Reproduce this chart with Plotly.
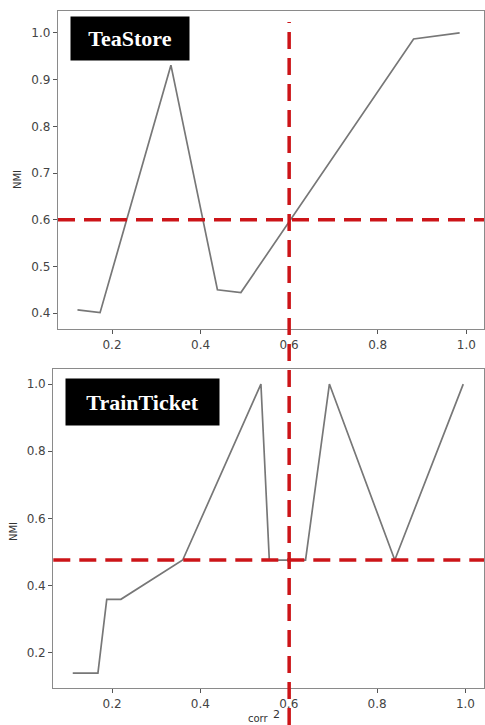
import plotly.graph_objects as go

# TeaStore panel data
tea_corr = [0.122, 0.173, 0.333, 0.438, 0.491, 0.881, 0.985]
tea_nmi = [0.407, 0.401, 0.931, 0.450, 0.444, 0.987, 1.000]
tea_thresh_nmi = 0.6

# TrainTicket panel data
train_corr = [0.111, 0.168, 0.188, 0.220, 0.360, 0.537, 0.556, 0.638, 0.692, 0.840, 0.995]
train_nmi = [0.139, 0.139, 0.359, 0.359, 0.476, 1.000, 0.476, 0.476, 1.000, 0.476, 1.000]
train_thresh_nmi = 0.476

corr_thresh = 0.6

tea_yticks = [0.4, 0.5, 0.6, 0.7, 0.8, 0.9, 1.0]
train_yticks = [0.2, 0.4, 0.6, 0.8, 1.0]
xticks = [0.2, 0.4, 0.6, 0.8, 1.0]

W, H = 485, 725
RED = "#cc1418"
GREY_LINE = "#777777"
SPINE = "#8a8a8a"
TICKFONT = dict(family="DejaVu Sans", size=12, color="#444444")

fig = go.Figure()
fig.add_trace(go.Scatter(x=tea_corr, y=tea_nmi, mode="lines",
                         line=dict(color=GREY_LINE, width=1.7),
                         xaxis="x", yaxis="y", showlegend=False))
fig.add_trace(go.Scatter(x=train_corr, y=train_nmi, mode="lines",
                         line=dict(color=GREY_LINE, width=1.7),
                         xaxis="x2", yaxis="y2", showlegend=False))

axis_common = dict(showgrid=False, zeroline=False, showline=True, mirror=True,
                   linecolor=SPINE, linewidth=1.3, ticks="outside", ticklen=4,
                   tickcolor="#555555", tickwidth=1, tickfont=TICKFONT,
                   tickformat=".1f")

fig.update_layout(
    width=W, height=H,
    margin=dict(l=0, r=0, t=0, b=0),
    paper_bgcolor="white", plot_bgcolor="white",
    xaxis=dict(axis_common, domain=[58 / W, 484 / W], range=[0.078, 1.04],
               tickvals=xticks, anchor="y"),
    yaxis=dict(axis_common, domain=[1 - 329 / H, 1 - 11 / H], range=[0.366, 1.047],
               tickvals=tea_yticks, anchor="x"),
    xaxis2=dict(axis_common, domain=[53.3 / W, 484 / W], range=[0.067, 1.042],
                tickvals=xticks, anchor="y2"),
    yaxis2=dict(axis_common, domain=[1 - 688.3 / H, 1 - 369.3 / H], range=[0.094, 1.044],
                tickvals=train_yticks, anchor="x2"),
)

dash = "17px,9px"
# horizontal thresholds
fig.add_shape(type="line", xref="x domain", yref="y", x0=0, x1=1,
              y0=tea_thresh_nmi, y1=tea_thresh_nmi,
              line=dict(color=RED, width=3.5, dash=dash))
fig.add_shape(type="line", xref="x2 domain", yref="y2", x0=0, x1=1,
              y0=train_thresh_nmi, y1=train_thresh_nmi,
              line=dict(color=RED, width=3.5, dash=dash))
# vertical threshold across both panels
fig.add_shape(type="line", xref="x", yref="paper", x0=corr_thresh, x1=corr_thresh,
              y0=0, y1=1 - 22 / H,
              line=dict(color=RED, width=3.5, dash=dash))

# panel labels
fig.add_annotation(text="<b>TeaStore</b>", xref="paper", yref="paper",
                   x=130 / W, y=1 - 38.5 / H, xanchor="center", yanchor="middle",
                   showarrow=False, width=118, height=43, bgcolor="black", borderpad=0,
                   font=dict(family="Liberation Serif", size=22, color="white"))
fig.add_annotation(text="<b>TrainTicket</b>", xref="paper", yref="paper",
                   x=142.5 / W, y=1 - 402 / H, xanchor="center", yanchor="middle",
                   showarrow=False, width=153, height=46, bgcolor="black", borderpad=0,
                   font=dict(family="Liberation Serif", size=22, color="white"))

# axis titles
fig.add_annotation(text="NMI", xref="paper", yref="paper", x=17 / W, y=1 - 180 / H,
                   xanchor="center", yanchor="middle", textangle=-90, showarrow=False,
                   font=dict(family="DejaVu Sans", size=10, color="#333333"))
fig.add_annotation(text="NMI", xref="paper", yref="paper", x=13 / W, y=1 - 532 / H,
                   xanchor="center", yanchor="middle", textangle=-90, showarrow=False,
                   font=dict(family="DejaVu Sans", size=10, color="#333333"))
fig.add_annotation(text="corr", xref="paper", yref="paper", x=258 / W, y=1 - 718.5 / H,
                   xanchor="center", yanchor="middle", showarrow=False,
                   font=dict(family="DejaVu Sans", size=10, color="#333333"))
fig.add_annotation(text="2", xref="paper", yref="paper", x=276.5 / W, y=1 - 714 / H,
                   xanchor="center", yanchor="middle", showarrow=False,
                   font=dict(family="DejaVu Sans", size=11, color="#333333"))

fig.write_html("out.html", config={"displayModeBar": False},
               post_script="document.body.style.margin='0px';document.body.style.padding='0px';")
